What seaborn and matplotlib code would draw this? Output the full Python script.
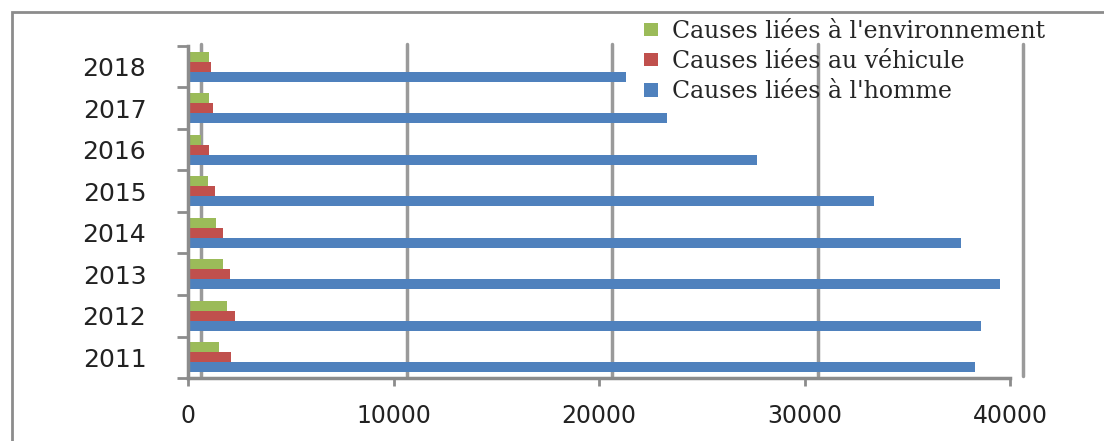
import numpy as np
import pandas as pd
import matplotlib
matplotlib.use("Agg")
import matplotlib.pyplot as plt
from matplotlib.patches import Rectangle
from matplotlib.transforms import ScaledTranslation
import seaborn as sns

years = ["2018", "2017", "2016", "2015", "2014", "2013", "2012", "2011"]
homme = [21300, 23300, 27700, 33400, 37600, 39500, 38600, 38300]
vehicule = [1100, 1200, 1000, 1300, 1700, 2050, 2300, 2100]
environnement = [1000, 1000, 650, 950, 1350, 1700, 1900, 1500]
causes = ["Causes liées à l'environnement", "Causes liées au véhicule", "Causes liées à l'homme"]
colors = ["#9BBB59", "#C0504D", "#4F81BD"]

df = pd.DataFrame({
    "year": years * 3,
    "cause": [causes[0]] * 8 + [causes[1]] * 8 + [causes[2]] * 8,
    "val": environnement + vehicule + homme,
})

sns.set_style("white")
plt.rcParams["font.family"] = ["DejaVu Sans"]

fig = plt.figure(figsize=(11.04, 4.41), dpi=100)
ax = fig.add_axes([188 / 1104, 1 - 378 / 441, (1010 - 188) / 1104, (378 - 46) / 441])

sns.barplot(data=df, x="val", y="year", hue="cause", order=years, hue_order=causes,
            palette=colors, orient="h", width=0.72, saturation=1, ax=ax,
            edgecolor="none", legend=True)

ax.set_xlim(0, 40000)
ax.set_ylim(7.5, -0.5)
ax.set_xticks([0, 10000, 20000, 30000, 40000])
ax.set_xlabel("")
ax.set_ylabel("")

# back-wall gridlines, shifted to mimic the 3D look
ax.grid(axis="x", color="#9a9a9a", linewidth=2.5)
ax.set_axisbelow(True)
off = ScaledTranslation(13 / 100, 2 / 100, fig.dpi_scale_trans)
for gl in ax.get_xgridlines():
    gl.set_transform(gl.get_transform() + off)
    gl.set_clip_on(False)

for s in ["top", "right"]:
    ax.spines[s].set_visible(False)
for s in ["left", "bottom"]:
    ax.spines[s].set_color("#8c8c8c")
    ax.spines[s].set_linewidth(2.5)

ax.set_yticks(np.arange(-0.5, 8, 1), minor=True)
ax.tick_params(axis="y", which="minor", length=8, width=2, color="#8c8c8c", left=True)
ax.tick_params(axis="y", which="major", length=0, pad=30, labelsize=18, labelcolor="#222222")
ax.tick_params(axis="x", length=6, width=2, color="#8c8c8c", bottom=True, pad=13,
               labelsize=17, labelcolor="#222222")

h, l = ax.get_legend_handles_labels()
ax.get_legend().remove()
ax.legend(h, l, loc="upper left", bbox_to_anchor=(644 / 1104, 1 - 20 / 441),
          bbox_transform=fig.transFigure, frameon=False, prop={"family": "DejaVu Serif", "size": 17},
          handlelength=0.6, handleheight=0.5, handletextpad=0.6, labelspacing=0.3,
          borderaxespad=0, borderpad=0)

# outer chart frame
fig.add_artist(Rectangle((12 / 1104, -0.1), 1.2, 1 - 12 / 441 + 0.1, transform=fig.transFigure,
                         fill=False, edgecolor="#8c8c8c", linewidth=2))

fig.savefig("out.png", dpi=100)
